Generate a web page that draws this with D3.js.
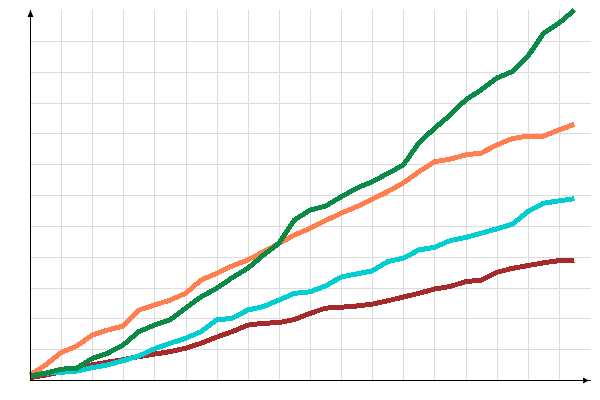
<!DOCTYPE html>
<html>
<head>
<meta charset="utf-8">
<script src="https://cdn.jsdelivr.net/npm/d3@7"></script>
<style>
  html, body { margin: 0; padding: 0; background: #fff; }
  svg { display: block; }
</style>
</head>
<body>
<svg id="chart" width="600" height="400"></svg>
<script>
// ---- data ----
const xValues = [0, 0.5, 1, 1.5, 2, 2.5, 3, 3.5, 4, 4.5, 5, 5.5, 6, 6.5, 7, 7.5, 8, 8.5,
                 9, 9.5, 10, 10.5, 11, 11.5, 12, 12.5, 13, 13.5, 14, 14.5, 15, 15.5, 16, 16.5, 17, 17.5];

const brownSeries = [0.08, 0.16, 0.26, 0.36, 0.49, 0.58, 0.66, 0.76, 0.84, 0.92, 1.03, 1.19,
                     1.39, 1.57, 1.78, 1.84, 1.86, 1.96, 2.16, 2.33, 2.36, 2.40, 2.46, 2.57,
                     2.69, 2.81, 2.95, 3.03, 3.19, 3.24, 3.49, 3.62, 3.71, 3.80, 3.87, 3.89];

const cyanSeries = [0.16, 0.22, 0.25, 0.29, 0.40, 0.49, 0.63, 0.78, 1.01, 1.19, 1.35, 1.57,
                    1.95, 2.00, 2.27, 2.38, 2.59, 2.81, 2.86, 3.05, 3.34, 3.44, 3.54, 3.84,
                    3.95, 4.22, 4.30, 4.52, 4.62, 4.76, 4.90, 5.05, 5.46, 5.73, 5.81, 5.88];

const orangeSeries = [0.16, 0.49, 0.89, 1.10, 1.46, 1.62, 1.75, 2.27, 2.43, 2.59, 2.81, 3.24,
                      3.46, 3.70, 3.89, 4.16, 4.43, 4.70, 4.92, 5.17, 5.41, 5.62, 5.86, 6.11,
                      6.39, 6.75, 7.08, 7.16, 7.30, 7.36, 7.62, 7.83, 7.91, 7.91, 8.11, 8.29];

const greenSeries = [0.13, 0.22, 0.35, 0.38, 0.70, 0.87, 1.14, 1.57, 1.78, 1.95, 2.33, 2.70,
                     2.97, 3.32, 3.62, 4.05, 4.43, 5.19, 5.51, 5.64, 5.94, 6.22, 6.43, 6.70,
                     6.97, 7.69, 8.16, 8.59, 9.08, 9.41, 9.79, 10.00, 10.49, 11.24, 11.57, 12.00];

const xGridTicks = [1, 2, 3, 4, 5, 6, 7, 8, 9, 10, 11, 12, 13, 14, 15, 16, 17];
const yGridTicks = [1, 2, 3, 4, 5, 6, 7, 8, 9, 10, 11];

const seriesList = [
  { name: "brown", values: brownSeries, color: "#a52a2a" },
  { name: "cyan", values: cyanSeries, color: "#00ced1" },
  { name: "orange", values: orangeSeries, color: "#ff7f50" },
  { name: "green", values: greenSeries, color: "#0a8a45" }
];

// ---- drawing ----
const svg = d3.select("#chart");
const x = d3.scaleLinear().domain([0, 18]).range([30, 590]);
const y = d3.scaleLinear().domain([0, 12]).range([380, 10]);

// grid
const grid = svg.append("g").attr("shape-rendering", "crispEdges");
grid.selectAll("line.v").data(xGridTicks).join("line")
  .attr("class", "v")
  .attr("x1", d => x(d) + 0.5).attr("x2", d => x(d) + 0.5)
  .attr("y1", y(12)).attr("y2", y(0))
  .attr("stroke", "#dcdcdc").attr("stroke-width", 1);
grid.selectAll("line.h").data(yGridTicks).join("line")
  .attr("class", "h")
  .attr("x1", x(0)).attr("x2", x(18) + 1)
  .attr("y1", d => y(d) + 0.5).attr("y2", d => y(d) + 0.5)
  .attr("stroke", "#dcdcdc").attr("stroke-width", 1);

// lines
const line = d3.line()
  .x((d, i) => x(xValues[i]))
  .y(d => y(d));

svg.append("g").selectAll("path").data(seriesList).join("path")
  .attr("d", s => line(s.values))
  .attr("fill", "none")
  .attr("stroke", s => s.color)
  .attr("stroke-width", 5)
  .attr("stroke-linejoin", "miter")
  .attr("shape-rendering", "crispEdges");

// axes
const axes = svg.append("g").attr("shape-rendering", "crispEdges");
axes.append("line")
  .attr("x1", x(0) + 0.5).attr("x2", x(0) + 0.5)
  .attr("y1", y(12)).attr("y2", y(0) + 1)
  .attr("stroke", "#000").attr("stroke-width", 1.5);
axes.append("line")
  .attr("x1", x(0)).attr("x2", x(18) + 1)
  .attr("y1", y(0) + 0.5).attr("y2", y(0) + 0.5)
  .attr("stroke", "#000").attr("stroke-width", 1.5);

// arrowheads
svg.append("path")
  .attr("d", `M${x(0) + 0.5},${y(12)} L${x(0) + 3.5},${y(12) + 7} L${x(0) - 2.5},${y(12) + 7} Z`)
  .attr("fill", "#000");
svg.append("path")
  .attr("d", `M${x(18) - 1},${y(0) + 0.5} L${x(18) - 7},${y(0) - 2.5} L${x(18) - 7},${y(0) + 3.5} Z`)
  .attr("fill", "#000");
</script>
</body>
</html>
